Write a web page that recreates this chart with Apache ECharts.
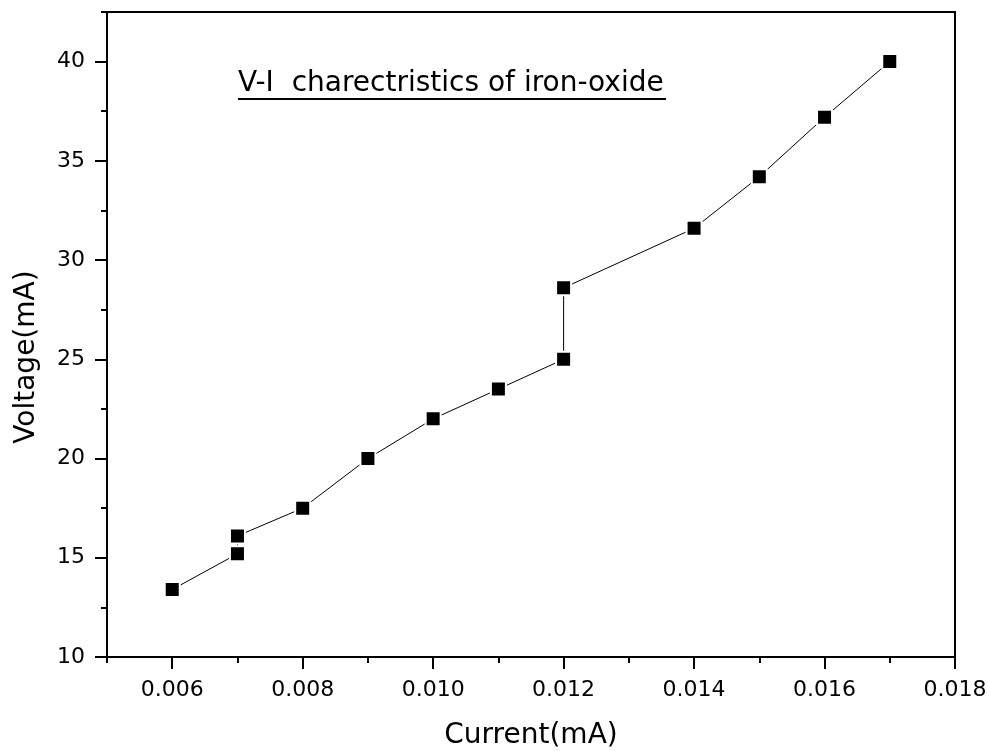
<!DOCTYPE html>
<html>
<head>
<meta charset="utf-8">
<script src="https://cdn.jsdelivr.net/npm/echarts@6/dist/echarts.min.js"></script>
<style>
    html, body { margin: 0; padding: 0; background: #fff; }
    #chart { width: 989px; height: 751px; }
</style>
</head>
<body>
<div id="chart"></div>
<script>
// data
var current = [0.006, 0.007, 0.007, 0.008, 0.009, 0.010, 0.011, 0.012, 0.012, 0.014, 0.015, 0.016, 0.017];
var voltage = [13.4, 15.2, 16.1, 17.5, 20.0, 22.0, 23.5, 25.0, 28.6, 31.6, 34.2, 37.2, 40.0];

// tick positions
var xMajorTicks = [0.006, 0.008, 0.010, 0.012, 0.014, 0.016, 0.018];
var xMinorTicks = [0.005, 0.007, 0.009, 0.011, 0.013, 0.015, 0.017];
var yMajorTicks = [10, 15, 20, 25, 30, 35, 40];
var yMinorTicks = [12.5, 17.5, 22.5, 27.5, 32.5, 37.5, 42.5];

var chartTitle = 'V-I  charectristics of iron-oxide';
var xName = 'Current(mA)';
var yName = 'Voltage(mA)';

var chartMgr = {

    init: function () {
        var myChart = echarts.init(document.getElementById('chart'), null, { renderer: 'canvas' });
        var font = 'DejaVu Sans';

        var points = current.map(function (c, i) {
            return [c, voltage[i]];
        });

        var tickStyle = { color: '#000', width: 2 };

        var option = {
            animation: false,
            backgroundColor: '#fff',
            textStyle: { fontFamily: font, color: '#000' },
            grid: [
                {
                    left: 107, top: 12, width: 848, height: 645,
                    outerBoundsMode: 'none', containLabel: false,
                    show: true, borderColor: '#000', borderWidth: 2
                },
                // second grid only carries the short (minor) ticks
                {
                    left: 107, top: 12, width: 848, height: 645,
                    outerBoundsMode: 'none', containLabel: false, show: false
                }
            ],
            xAxis: [
                {
                    type: 'value', gridIndex: 0, min: 0.005, max: 0.018,
                    name: xName, nameLocation: 'middle', nameGap: 65,
                    nameTextStyle: { fontFamily: font, fontSize: 28, color: '#000' },
                    axisLine: { lineStyle: tickStyle },
                    axisTick: { length: 12, lineStyle: tickStyle, customValues: xMajorTicks },
                    axisLabel: {
                        customValues: xMajorTicks, margin: 22,
                        fontFamily: font, fontSize: 22, color: '#000',
                        formatter: function (v) { return v.toFixed(3); }
                    },
                    splitLine: { show: false }
                },
                {
                    type: 'value', gridIndex: 1, min: 0.005, max: 0.018,
                    axisLine: { show: false },
                    axisTick: { length: 6, lineStyle: tickStyle, customValues: xMinorTicks },
                    axisLabel: { show: false },
                    splitLine: { show: false }
                }
            ],
            yAxis: [
                {
                    type: 'value', gridIndex: 0, min: 10, max: 42.5,
                    axisLine: { lineStyle: tickStyle },
                    axisTick: { length: 12, lineStyle: tickStyle, customValues: yMajorTicks },
                    axisLabel: {
                        customValues: yMajorTicks, margin: 22,
                        fontFamily: font, fontSize: 22, color: '#000'
                    },
                    splitLine: { show: false }
                },
                {
                    type: 'value', gridIndex: 1, min: 10, max: 42.5,
                    axisLine: { show: false },
                    axisTick: { length: 6, lineStyle: tickStyle, customValues: yMinorTicks },
                    axisLabel: { show: false },
                    splitLine: { show: false }
                }
            ],
            graphic: [
                {
                    type: 'text', left: 238, top: 70,
                    style: { text: chartTitle, fontFamily: font, fontSize: 28, fill: '#000' }
                },
                {
                    type: 'line',
                    shape: { x1: 238, y1: 99, x2: 666, y2: 99 },
                    style: { stroke: '#000', lineWidth: 2 }
                },
                // y axis name sits a bit below the middle in the original
                {
                    type: 'text', x: 27, y: 357, rotation: Math.PI / 2,
                    style: {
                        text: yName, fontFamily: font, fontSize: 28, fill: '#000',
                        align: 'center', verticalAlign: 'middle'
                    }
                }
            ],
            series: [
                {
                    type: 'line',
                    xAxisIndex: 0, yAxisIndex: 0,
                    data: points,
                    symbol: 'rect', symbolSize: 15,
                    itemStyle: { color: '#000', borderColor: '#fff', borderWidth: 2 },
                    lineStyle: { color: '#000', width: 1 }
                }
            ]
        };

        myChart.setOption(option);
    }
};

chartMgr.init();
</script>
</body>
</html>
